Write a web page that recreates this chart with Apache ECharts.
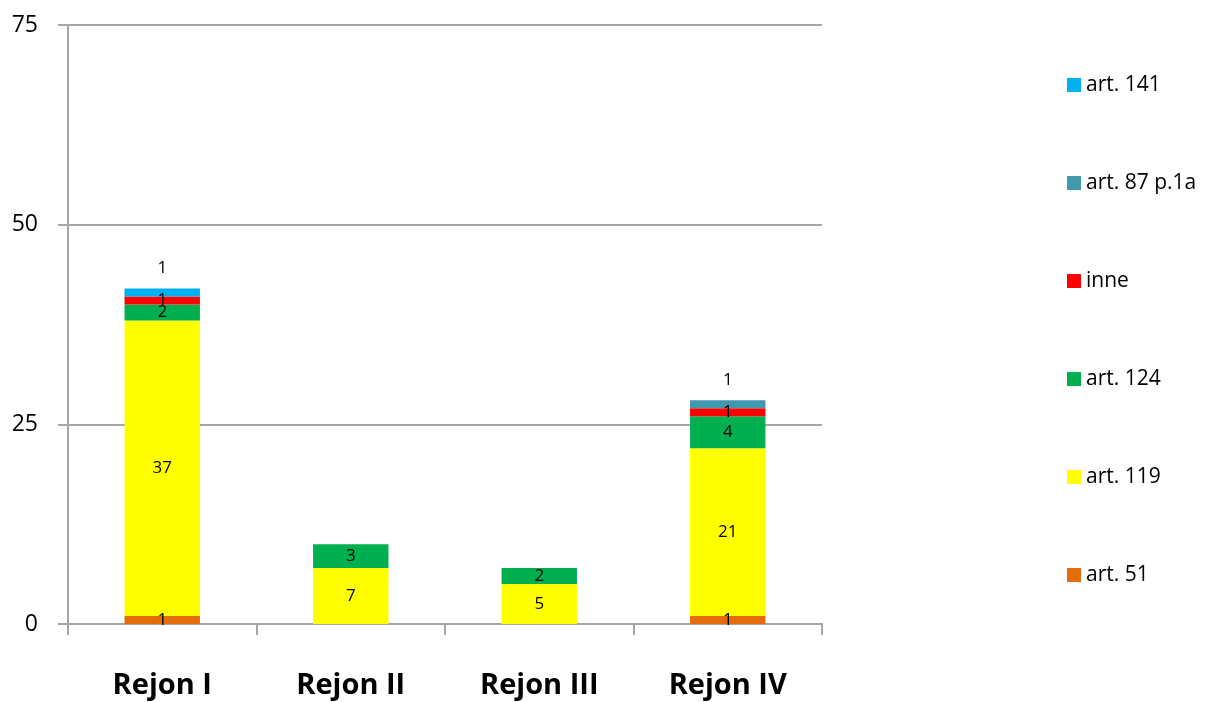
<!DOCTYPE html>
<html>
<head>
<meta charset="utf-8">
<script src="https://cdn.jsdelivr.net/npm/echarts@6/dist/echarts.min.js"></script>
<style>
html,body{margin:0;padding:0;background:#fff;}
#c{width:1210px;height:702px;}
</style>
</head>
<body>
<div id="c"></div>
<script>
const categories = ['Rejon I', 'Rejon II', 'Rejon III', 'Rejon IV'];
const art51 = [1, null, null, 1];
const art119 = [37, 7, 5, 21];
const art124 = [2, 3, 2, 4];
const inne = [1, null, null, 1];
const art87 = [null, null, null, 1];
const art141 = [1, null, null, null];
const yTicks = [0, 25, 50, 75];

const FONT = '"Open Sans", "Noto Sans", sans-serif';
const seriesDefs = [
  {name: 'art. 51', data: art51, color: '#E46C0A'},
  {name: 'art. 119', data: art119, color: '#FFFF00'},
  {name: 'art. 124', data: art124, color: '#00B050'},
  {name: 'inne', data: inne, color: '#FF0000'},
  {name: 'art. 87 p.1a', data: art87, color: '#4198AF', top: true},
  {name: 'art. 141', data: art141, color: '#00B0F0', top: true}
];

const chart = echarts.init(document.getElementById('c'), null, {renderer: 'canvas'});
chart.setOption({
  animation: false,
  backgroundColor: '#fff',
  textStyle: {fontFamily: FONT},
  grid: {left: 68, right: 388, top: 25, bottom: 78, containLabel: false},
  legend: {
    orient: 'vertical',
    left: 1062,
    top: 69,
    itemWidth: 14,
    itemHeight: 14,
    itemGap: 76,
    icon: 'rect',
    data: ['art. 141', 'art. 87 p.1a', 'inne', 'art. 124', 'art. 119', 'art. 51'],
    textStyle: {fontSize: 21, color: '#000', fontFamily: FONT, lineHeight: 22}
  },
  xAxis: {
    type: 'category',
    data: categories,
    boundaryGap: true,
    axisLine: {lineStyle: {color: '#A6A6A6', width: 2}},
    axisTick: {show: true, alignWithLabel: false, length: 11, lineStyle: {color: '#A6A6A6', width: 2}},
    axisLabel: {fontSize: 29, fontWeight: 'bold', color: '#000', margin: 47, fontFamily: FONT}
  },
  yAxis: {
    type: 'value',
    min: yTicks[0],
    max: yTicks[yTicks.length - 1],
    interval: 25,
    axisLine: {show: true, lineStyle: {color: '#A6A6A6', width: 2}},
    axisTick: {show: true, length: 10, lineStyle: {color: '#A6A6A6', width: 2}},
    splitLine: {show: true, lineStyle: {color: '#A6A6A6', width: 2}},
    axisLabel: {fontSize: 23, color: '#000', margin: 30, fontFamily: FONT}
  },
  series: seriesDefs.map(s => ({
    name: s.name,
    type: 'bar',
    stack: 'total',
    barWidth: '40%',
    data: s.data,
    itemStyle: {color: s.color},
    label: {
      show: true,
      position: s.top ? 'top' : 'inside',
      distance: 12,
      color: '#000',
      fontSize: 17,
      fontFamily: FONT,
      formatter: p => (p.value == null ? '' : String(p.value))
    }
  }))
});
</script>
</body>
</html>
